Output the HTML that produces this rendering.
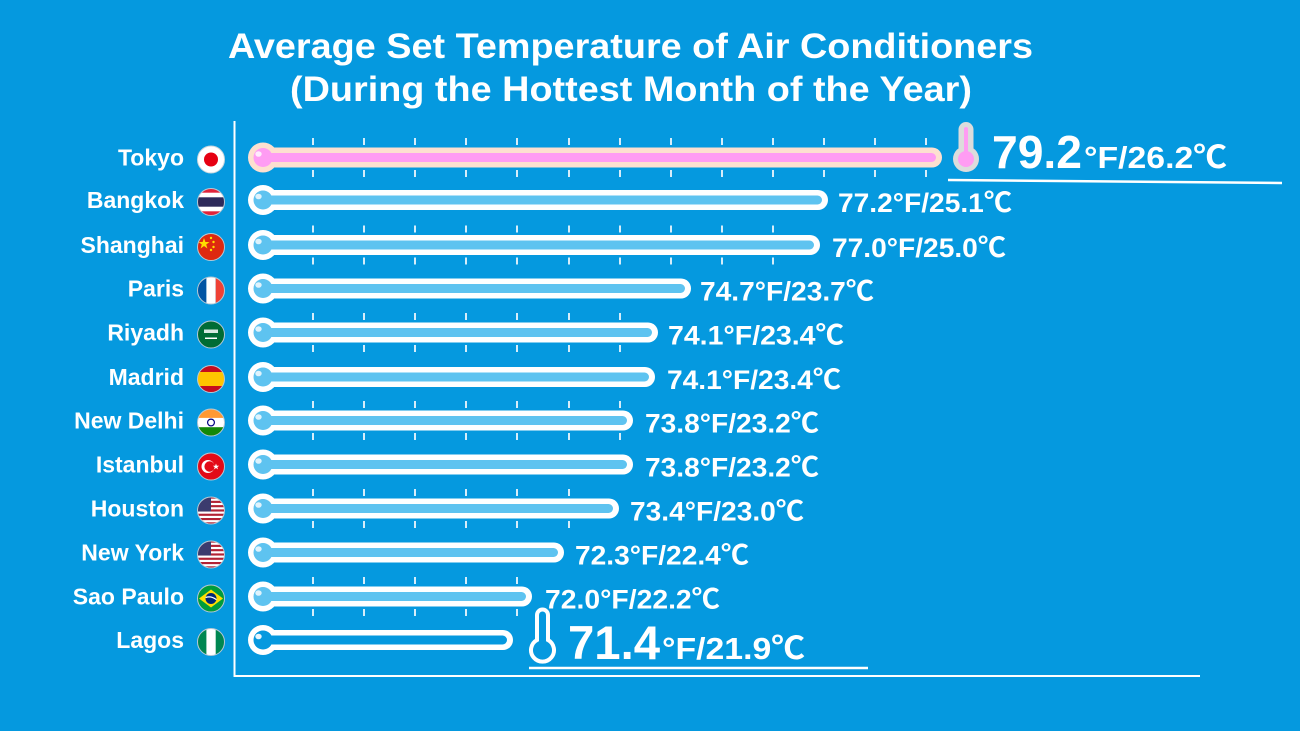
<!DOCTYPE html>
<html><head><meta charset="utf-8"><style>
html,body{margin:0;padding:0;background:#0599df;}
svg{display:block;}
text{font-family:"Liberation Sans","Noto Sans CJK SC",sans-serif;font-weight:bold;fill:#fff;}
</style></head><body>
<svg width="1300" height="731" viewBox="0 0 1300 731" xmlns="http://www.w3.org/2000/svg">
<defs>
<clipPath id="fc"><circle cx="0" cy="0" r="13.5"/></clipPath>
</defs>
<rect width="1300" height="731" fill="#0599df"/>

<!-- Title -->
<text x="228" y="58" font-size="35" textLength="805" lengthAdjust="spacingAndGlyphs">Average Set Temperature of Air Conditioners</text>
<text x="290" y="101" font-size="35" textLength="682" lengthAdjust="spacingAndGlyphs">(During the Hottest Month of the Year)</text>

<!-- Axes -->
<line x1="234.5" y1="121" x2="234.5" y2="677" stroke="#fff" stroke-width="2"/>
<line x1="234" y1="676" x2="1200" y2="676" stroke="#fff" stroke-width="2"/>

<!-- Ticks -->
<path stroke="#d6edfa" stroke-width="2" fill="none" d="
M313 138V145M364 138V145M415 138V145M466 138V145M517 138V145M569 138V145M620 138V145M671 138V145M722 138V145M773 138V145M824 138V145M875 138V145M926 138V145
M313 170V177M364 170V177M415 170V177M466 170V177M517 170V177M569 170V177M620 170V177M671 170V177M722 170V177M773 170V177M824 170V177M875 170V177M926 170V177
M313 225.5V232.5M364 225.5V232.5M415 225.5V232.5M466 225.5V232.5M517 225.5V232.5M569 225.5V232.5M620 225.5V232.5M671 225.5V232.5M722 225.5V232.5M773 225.5V232.5
M313 257.5V264.5M364 257.5V264.5M415 257.5V264.5M466 257.5V264.5M517 257.5V264.5M569 257.5V264.5M620 257.5V264.5M671 257.5V264.5M722 257.5V264.5M773 257.5V264.5
M313 313V320M364 313V320M415 313V320M466 313V320M517 313V320M569 313V320M620 313V320
M313 345V352M364 345V352M415 345V352M466 345V352M517 345V352M569 345V352M620 345V352
M313 401V408M364 401V408M415 401V408M466 401V408M517 401V408M569 401V408M620 401V408
M313 433V440M364 433V440M415 433V440M466 433V440M517 433V440M569 433V440M620 433V440
M313 489V496M364 489V496M415 489V496M466 489V496M517 489V496M569 489V496
M313 521V528M364 521V528M415 521V528M466 521V528M517 521V528M569 521V528
M313 577V584M364 577V584M415 577V584M466 577V584M517 577V584
M313 609V616M364 609V616M415 609V616M466 609V616M517 609V616"/>

<!-- Row 0 Tokyo -->
<g transform="translate(0,157.5)">
<text x="184" y="8" font-size="23" text-anchor="end">Tokyo</text>
<g transform="translate(211,2)"><g clip-path="url(#fc)"><rect x="-14" y="-14" width="28" height="28" fill="#fff"/><circle r="7" fill="#e60012"/></g><circle r="13.5" fill="none" stroke="#c9d6de" stroke-width="1"/></g>
<circle cx="263" r="15" fill="#fde0d0"/><rect x="263" y="-10" width="679" height="20" rx="10" fill="#fde0d0"/>
<circle cx="263" r="9.5" fill="#ff9cf3"/><rect x="263" y="-4.5" width="673" height="9" rx="4.5" fill="#ff9cf3"/>
<ellipse cx="258.5" cy="-3.5" rx="3.2" ry="2.8" fill="#fff" opacity=".8"/>
</g>

<!-- Row 1 Bangkok -->
<g transform="translate(0,200)">
<text x="184" y="8" font-size="23" text-anchor="end">Bangkok</text>
<g transform="translate(211,2)"><g clip-path="url(#fc)"><rect x="-14" y="-14" width="28" height="28" fill="#e0243a"/><rect x="-14" y="-9.3" width="28" height="18.6" fill="#fff"/><rect x="-14" y="-4.7" width="28" height="9.4" fill="#2d2a5a"/></g><circle r="13.5" fill="none" stroke="#b8c8d4" stroke-width="1"/></g>
<circle cx="263" r="15" fill="#fff"/><rect x="263" y="-10" width="565" height="20" rx="10" fill="#fff"/>
<circle cx="263" r="9.5" fill="#5ec3f0"/><rect x="263" y="-4.5" width="559" height="9" rx="4.5" fill="#5ec3f0"/>
<ellipse cx="258.5" cy="-3.5" rx="3.2" ry="2.8" fill="#fff" opacity=".8"/>
<text x="838" y="12" font-size="27" textLength="174" lengthAdjust="spacingAndGlyphs">77.2°F/25.1℃</text>
</g>

<!-- Row 2 Shanghai -->
<g transform="translate(0,245)">
<text x="184" y="8" font-size="23" text-anchor="end">Shanghai</text>
<g transform="translate(211,2)"><g clip-path="url(#fc)"><rect x="-14" y="-14" width="28" height="28" fill="#de2910"/><polygon points="-7,-9 -5.6,-5 -1.5,-5 -4.8,-2.5 -3.6,1.5 -7,-1 -10.4,1.5 -9.2,-2.5 -12.5,-5 -8.4,-5" fill="#ffde00"/><circle cx="0" cy="-9" r="1.2" fill="#ffde00"/><circle cx="2.5" cy="-5" r="1.2" fill="#ffde00"/><circle cx="2.5" cy="0" r="1.2" fill="#ffde00"/><circle cx="0" cy="3" r="1.2" fill="#ffde00"/></g><circle r="13.5" fill="none" stroke="#b8c8d4" stroke-width="1"/></g>
<circle cx="263" r="15" fill="#fff"/><rect x="263" y="-10" width="557" height="20" rx="10" fill="#fff"/>
<circle cx="263" r="9.5" fill="#5ec3f0"/><rect x="263" y="-4.5" width="551" height="9" rx="4.5" fill="#5ec3f0"/>
<ellipse cx="258.5" cy="-3.5" rx="3.2" ry="2.8" fill="#fff" opacity=".8"/>
<text x="832" y="12" font-size="27" textLength="174" lengthAdjust="spacingAndGlyphs">77.0°F/25.0℃</text>
</g>

<!-- Row 3 Paris -->
<g transform="translate(0,288.5)">
<text x="184" y="8" font-size="23" text-anchor="end">Paris</text>
<g transform="translate(211,2)"><g clip-path="url(#fc)"><rect x="-14" y="-14" width="9.4" height="28" fill="#0055a4"/><rect x="-4.6" y="-14" width="9.3" height="28" fill="#fff"/><rect x="4.7" y="-14" width="9.4" height="28" fill="#ef4135"/></g><circle r="13.5" fill="none" stroke="#b8c8d4" stroke-width="1"/></g>
<circle cx="263" r="15" fill="#fff"/><rect x="263" y="-10" width="428" height="20" rx="10" fill="#fff"/>
<circle cx="263" r="9.5" fill="#5ec3f0"/><rect x="263" y="-4.5" width="422" height="9" rx="4.5" fill="#5ec3f0"/>
<ellipse cx="258.5" cy="-3.5" rx="3.2" ry="2.8" fill="#fff" opacity=".8"/>
<text x="700" y="12" font-size="27" textLength="174" lengthAdjust="spacingAndGlyphs">74.7°F/23.7℃</text>
</g>

<!-- Row 4 Riyadh -->
<g transform="translate(0,332.5)">
<text x="184" y="8" font-size="23" text-anchor="end">Riyadh</text>
<g transform="translate(211,2)"><g clip-path="url(#fc)"><rect x="-14" y="-14" width="28" height="28" fill="#006c35"/><rect x="-7" y="-5" width="14" height="3.5" fill="#fff" opacity=".85"/><rect x="-6" y="3" width="12" height="1.5" fill="#fff"/></g><circle r="13.5" fill="none" stroke="#b8c8d4" stroke-width="1"/></g>
<circle cx="263" r="15" fill="#fff"/><rect x="263" y="-10" width="395" height="20" rx="10" fill="#fff"/>
<circle cx="263" r="9.5" fill="#5ec3f0"/><rect x="263" y="-4.5" width="389" height="9" rx="4.5" fill="#5ec3f0"/>
<ellipse cx="258.5" cy="-3.5" rx="3.2" ry="2.8" fill="#fff" opacity=".8"/>
<text x="668" y="12" font-size="27" textLength="176" lengthAdjust="spacingAndGlyphs">74.1°F/23.4℃</text>
</g>

<!-- Row 5 Madrid -->
<g transform="translate(0,377)">
<text x="184" y="8" font-size="23" text-anchor="end">Madrid</text>
<g transform="translate(211,2)"><g clip-path="url(#fc)"><rect x="-14" y="-14" width="28" height="28" fill="#c60b1e"/><rect x="-14" y="-7" width="28" height="14" fill="#ffc400"/></g><circle r="13.5" fill="none" stroke="#b8c8d4" stroke-width="1"/></g>
<circle cx="263" r="15" fill="#fff"/><rect x="263" y="-10" width="392" height="20" rx="10" fill="#fff"/>
<circle cx="263" r="9.5" fill="#5ec3f0"/><rect x="263" y="-4.5" width="386" height="9" rx="4.5" fill="#5ec3f0"/>
<ellipse cx="258.5" cy="-3.5" rx="3.2" ry="2.8" fill="#fff" opacity=".8"/>
<text x="667" y="12" font-size="27" textLength="174" lengthAdjust="spacingAndGlyphs">74.1°F/23.4℃</text>
</g>

<!-- Row 6 New Delhi -->
<g transform="translate(0,420.5)">
<text x="184" y="8" font-size="23" text-anchor="end">New Delhi</text>
<g transform="translate(211,2)"><g clip-path="url(#fc)"><rect x="-14" y="-14" width="28" height="28" fill="#fff"/><rect x="-14" y="-14" width="28" height="9.4" fill="#ff9933"/><rect x="-14" y="4.7" width="28" height="9.4" fill="#138808"/><circle r="3.4" fill="none" stroke="#000080" stroke-width="1.2"/></g><circle r="13.5" fill="none" stroke="#b8c8d4" stroke-width="1"/></g>
<circle cx="263" r="15" fill="#fff"/><rect x="263" y="-10" width="370" height="20" rx="10" fill="#fff"/>
<circle cx="263" r="9.5" fill="#5ec3f0"/><rect x="263" y="-4.5" width="364" height="9" rx="4.5" fill="#5ec3f0"/>
<ellipse cx="258.5" cy="-3.5" rx="3.2" ry="2.8" fill="#fff" opacity=".8"/>
<text x="645" y="12" font-size="27" textLength="174" lengthAdjust="spacingAndGlyphs">73.8°F/23.2℃</text>
</g>

<!-- Row 7 Istanbul -->
<g transform="translate(0,464.5)">
<text x="184" y="8" font-size="23" text-anchor="end">Istanbul</text>
<g transform="translate(211,2)"><g clip-path="url(#fc)"><rect x="-14" y="-14" width="28" height="28" fill="#e30a17"/><circle cx="-3" cy="0" r="6.5" fill="#fff"/><circle cx="-1.4" cy="0" r="5.2" fill="#e30a17"/><polygon points="5,-3 5.8,-0.8 8.2,-0.8 6.3,0.6 7,2.9 5,1.5 3,2.9 3.7,0.6 1.8,-0.8 4.2,-0.8" fill="#fff"/></g><circle r="13.5" fill="none" stroke="#b8c8d4" stroke-width="1"/></g>
<circle cx="263" r="15" fill="#fff"/><rect x="263" y="-10" width="370" height="20" rx="10" fill="#fff"/>
<circle cx="263" r="9.5" fill="#5ec3f0"/><rect x="263" y="-4.5" width="364" height="9" rx="4.5" fill="#5ec3f0"/>
<ellipse cx="258.5" cy="-3.5" rx="3.2" ry="2.8" fill="#fff" opacity=".8"/>
<text x="645" y="12" font-size="27" textLength="174" lengthAdjust="spacingAndGlyphs">73.8°F/23.2℃</text>
</g>

<!-- Row 8 Houston -->
<g transform="translate(0,508.5)">
<text x="184" y="8" font-size="23" text-anchor="end">Houston</text>
<g transform="translate(211,2)"><g clip-path="url(#fc)"><rect x="-14" y="-14" width="28" height="28" fill="#fff"/>
<rect x="-14" y="-14" width="28" height="2.15" fill="#b22234"/><rect x="-14" y="-9.7" width="28" height="2.15" fill="#b22234"/><rect x="-14" y="-5.4" width="28" height="2.15" fill="#b22234"/><rect x="-14" y="-1.1" width="28" height="2.15" fill="#b22234"/><rect x="-14" y="3.2" width="28" height="2.15" fill="#b22234"/><rect x="-14" y="7.5" width="28" height="2.15" fill="#b22234"/><rect x="-14" y="11.8" width="28" height="2.2" fill="#b22234"/>
<rect x="-14" y="-14" width="14" height="15" fill="#3c3b6e"/></g><circle r="13.5" fill="none" stroke="#b8c8d4" stroke-width="1"/></g>
<circle cx="263" r="15" fill="#fff"/><rect x="263" y="-10" width="356" height="20" rx="10" fill="#fff"/>
<circle cx="263" r="9.5" fill="#5ec3f0"/><rect x="263" y="-4.5" width="350" height="9" rx="4.5" fill="#5ec3f0"/>
<ellipse cx="258.5" cy="-3.5" rx="3.2" ry="2.8" fill="#fff" opacity=".8"/>
<text x="630" y="12" font-size="27" textLength="174" lengthAdjust="spacingAndGlyphs">73.4°F/23.0℃</text>
</g>

<!-- Row 9 New York -->
<g transform="translate(0,552.5)">
<text x="184" y="8" font-size="23" text-anchor="end">New York</text>
<g transform="translate(211,2)"><g clip-path="url(#fc)"><rect x="-14" y="-14" width="28" height="28" fill="#fff"/>
<rect x="-14" y="-14" width="28" height="2.15" fill="#b22234"/><rect x="-14" y="-9.7" width="28" height="2.15" fill="#b22234"/><rect x="-14" y="-5.4" width="28" height="2.15" fill="#b22234"/><rect x="-14" y="-1.1" width="28" height="2.15" fill="#b22234"/><rect x="-14" y="3.2" width="28" height="2.15" fill="#b22234"/><rect x="-14" y="7.5" width="28" height="2.15" fill="#b22234"/><rect x="-14" y="11.8" width="28" height="2.2" fill="#b22234"/>
<rect x="-14" y="-14" width="14" height="15" fill="#3c3b6e"/></g><circle r="13.5" fill="none" stroke="#b8c8d4" stroke-width="1"/></g>
<circle cx="263" r="15" fill="#fff"/><rect x="263" y="-10" width="301" height="20" rx="10" fill="#fff"/>
<circle cx="263" r="9.5" fill="#5ec3f0"/><rect x="263" y="-4.5" width="295" height="9" rx="4.5" fill="#5ec3f0"/>
<ellipse cx="258.5" cy="-3.5" rx="3.2" ry="2.8" fill="#fff" opacity=".8"/>
<text x="575" y="12" font-size="27" textLength="174" lengthAdjust="spacingAndGlyphs">72.3°F/22.4℃</text>
</g>

<!-- Row 10 Sao Paulo -->
<g transform="translate(0,596.5)">
<text x="184" y="8" font-size="23" text-anchor="end">Sao Paulo</text>
<g transform="translate(211,2)"><g clip-path="url(#fc)"><rect x="-14" y="-14" width="28" height="28" fill="#009c3b"/><polygon points="-12,0 0,-9 12,0 0,9" fill="#ffdf00"/><circle r="5.5" fill="#002776"/><path d="M-5.4 -1 Q0 -3 5.4 1.2" stroke="#fff" stroke-width="1.2" fill="none"/></g><circle r="13.5" fill="none" stroke="#b8c8d4" stroke-width="1"/></g>
<circle cx="263" r="15" fill="#fff"/><rect x="263" y="-10" width="269" height="20" rx="10" fill="#fff"/>
<circle cx="263" r="9.5" fill="#5ec3f0"/><rect x="263" y="-4.5" width="263" height="9" rx="4.5" fill="#5ec3f0"/>
<ellipse cx="258.5" cy="-3.5" rx="3.2" ry="2.8" fill="#fff" opacity=".8"/>
<text x="545" y="12" font-size="27" textLength="175" lengthAdjust="spacingAndGlyphs">72.0°F/22.2℃</text>
</g>

<!-- Row 11 Lagos -->
<g transform="translate(0,640)">
<text x="184" y="8" font-size="23" text-anchor="end">Lagos</text>
<g transform="translate(211,2)"><g clip-path="url(#fc)"><rect x="-14" y="-14" width="28" height="28" fill="#fff"/><rect x="-14" y="-14" width="9.4" height="28" fill="#008751"/><rect x="4.7" y="-14" width="9.4" height="28" fill="#008751"/></g><circle r="13.5" fill="none" stroke="#b8c8d4" stroke-width="1"/></g>
<circle cx="263" r="15" fill="#fff"/><rect x="263" y="-10" width="250" height="20" rx="10" fill="#fff"/>
<circle cx="263" r="9.5" fill="#0599df"/><rect x="263" y="-4.5" width="244" height="9" rx="4.5" fill="#0599df"/>
<ellipse cx="258.5" cy="-3.5" rx="3.2" ry="2.8" fill="#fff" opacity=".9"/>
</g>

<!-- Tokyo highlight -->
<rect x="958.5" y="122" width="15" height="42" rx="7.5" fill="#dcdcdc"/>
<circle cx="966" cy="159" r="13" fill="#dcdcdc"/>
<rect x="964" y="127" width="4" height="30" rx="2" fill="#ff9cf3"/>
<circle cx="966" cy="159" r="8" fill="#ff9cf3"/>
<text x="992" y="168" font-size="46" textLength="90" lengthAdjust="spacingAndGlyphs">79.2</text>
<text x="1084" y="168" font-size="31" textLength="143" lengthAdjust="spacingAndGlyphs">°F/26.2℃</text>
<line x1="948" y1="180" x2="1282" y2="183" stroke="#fff" stroke-width="2.5"/>

<!-- Lagos highlight -->
<path d="M537 640 V615 A5.5 5.5 0 0 1 548 615 V640 A11.5 11.5 0 1 1 537 640 Z" fill="none" stroke="#fff" stroke-width="4"/>
<text x="568" y="659" font-size="47" textLength="92" lengthAdjust="spacingAndGlyphs">71.4</text>
<text x="662" y="659" font-size="31" textLength="143" lengthAdjust="spacingAndGlyphs">°F/21.9℃</text>
<line x1="529" y1="668" x2="868" y2="668" stroke="#fff" stroke-width="2.5"/>
</svg>
</body></html>
